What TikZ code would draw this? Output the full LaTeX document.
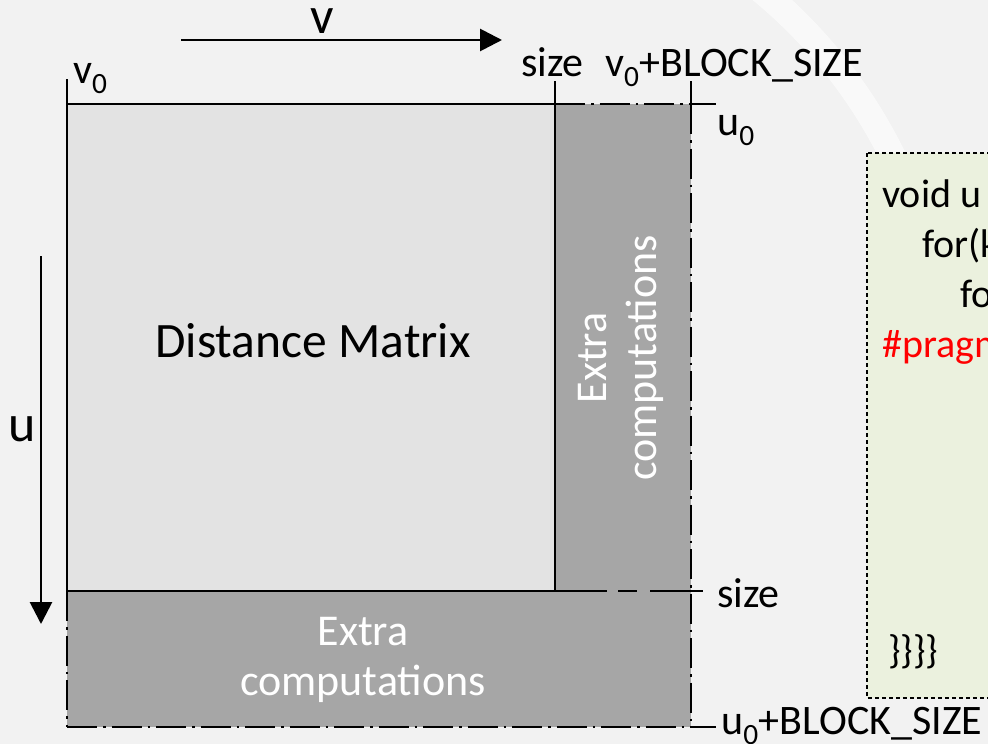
\documentclass[tikz,border=0pt]{standalone}
\usepackage{fontspec}
\setmainfont{Carlito}
\usetikzlibrary{arrows.meta}
\definecolor{bgcol}{HTML}{F2F2F2}
\definecolor{lightg}{HTML}{E3E3E3}
\definecolor{darkg}{HTML}{A6A6A6}
\definecolor{codebg}{HTML}{EBF1DE}
\definecolor{pragred}{HTML}{FF0000}
\begin{document}
\begin{tikzpicture}[x=1pt,y=-1pt,
  lbl/.style={inner sep=0pt,font=\fontsize{42}{50}\selectfont},
  biglbl/.style={inner sep=0pt,font=\fontsize{52}{60}\selectfont},
  extra/.style={inner sep=0pt,text=white,align=center,font=\fontsize{44}{50}\selectfont},
  codetxt/.style={inner sep=0pt,anchor=base west,font=\fontsize{40}{48}\selectfont},
  solidline/.style={line width=2.8pt},
  dashdotline/.style={line width=2.8pt,dash pattern=on 30pt off 6pt on 2.5pt off 6pt},
  arrowline/.style={line width=2.8pt,-{Triangle[length=22pt,width=22pt]}}]
\useasboundingbox (0,0) rectangle (988,744);
% background
\fill[bgcol] (0,0) rectangle (988,744);
\begin{scope}
  \clip (0,0) rectangle (988,744);
  \draw[white,opacity=0.6,line width=26pt] (440,380) ++(-62:505) arc[start angle=-62,end angle=12,radius=505];
\end{scope}
% areas
\fill[lightg] (67,104) rectangle (555,591);
\fill[darkg] (555,104) rectangle (691,591);
\fill[darkg] (67,591) rectangle (691,727);
% coordinates
\coordinate (tl) at (67,104);
\coordinate (tltick) at (67,79);
\coordinate (sz) at (555,104);
\coordinate (sztick) at (555,81);
\coordinate (bs) at (691,104);
\coordinate (bstick) at (691,81);
\coordinate (topend) at (716,104);
\coordinate (bl) at (67,591);
\coordinate (szb) at (555,591);
\coordinate (bsb) at (691,591);
\coordinate (b1) at (607,591);
\coordinate (b2) at (618,591);
\coordinate (b3) at (637,591);
\coordinate (b4) at (650,591);
\coordinate (b5) at (703,591);
\coordinate (bot) at (67,727);
\coordinate (botr) at (691,727);
\coordinate (botend) at (716,727);
% solid lines
\draw[solidline] (tltick) -- (bl);
\draw[solidline] (tl) -- (sz);
\draw[solidline] (bs) -- (topend);
\draw[solidline] (sztick) -- (szb);
\draw[solidline] (bstick) -- (bs);
\draw[solidline] (bl) -- (b1);
\draw[solidline] (b2) -- (b3);
\draw[solidline] (b4) -- (b5);
\draw[solidline] (botr) -- (botend);
% dash-dot lines
\draw[dashdotline] (sz) -- (bs);
\draw[dashdotline] (bs) -- (botr);
\draw[dashdotline] (bl) -- (bot);
\draw[dashdotline] (bot) -- (botr);
% arrows
\coordinate (va) at (181,40);
\coordinate (vb) at (502,40);
\coordinate (ua) at (41,256);
\coordinate (ub) at (41,624);
\draw[arrowline] (va) -- (vb);
\draw[arrowline] (ua) -- (ub);
% labels
\node[biglbl,anchor=base,text height=24pt] (vlab) at (322,34) {v};
\node[biglbl,anchor=base west] (ulab) at (8,441) {u};
\node[lbl,anchor=base west] (v0) at (73,83) {v\textsubscript{0}};
\node[lbl,anchor=base west] (size1) at (521,76) {size};
\node[lbl,anchor=base west] (vbs) at (605,76) {v\textsubscript{0}+BLOCK\_SIZE};
\node[lbl,anchor=base west] (u0) at (717,135) {u\textsubscript{0}};
\node[lbl,anchor=base west] (size2) at (717,607) {size};
\node[lbl,anchor=base west,text depth=6pt] (ubs) at (721,734) {u\textsubscript{0}+BLOCK\_SIZE};
\node[inner sep=0pt,anchor=base,font=\fontsize{49.5}{56}\selectfont] (dm) at (313,357) {Distance Matrix};
\node[extra,rotate=90] (ex1) at (621,358) {Extra\\computations};
\node[extra] (ex2) at (363,660) {Extra\\computations};
% code box
\begin{scope}
  \clip (0,0) rectangle (988,744);
  \draw[fill=codebg,line width=2pt,dash pattern=on 4pt off 3pt] (867,153) rectangle (1000,698);
  \node[codetxt] (c1) at (882,207) {void u};
  \node[codetxt] (c2) at (922,257) {for(k};
  \node[codetxt] (c3) at (960,307) {fo};
  \node[codetxt,text=pragred] (c4) at (882,357) {\#pragm};
  \node[codetxt] (c5) at (888,663) {\}\}\}\}};
\end{scope}
\end{tikzpicture}
\end{document}
